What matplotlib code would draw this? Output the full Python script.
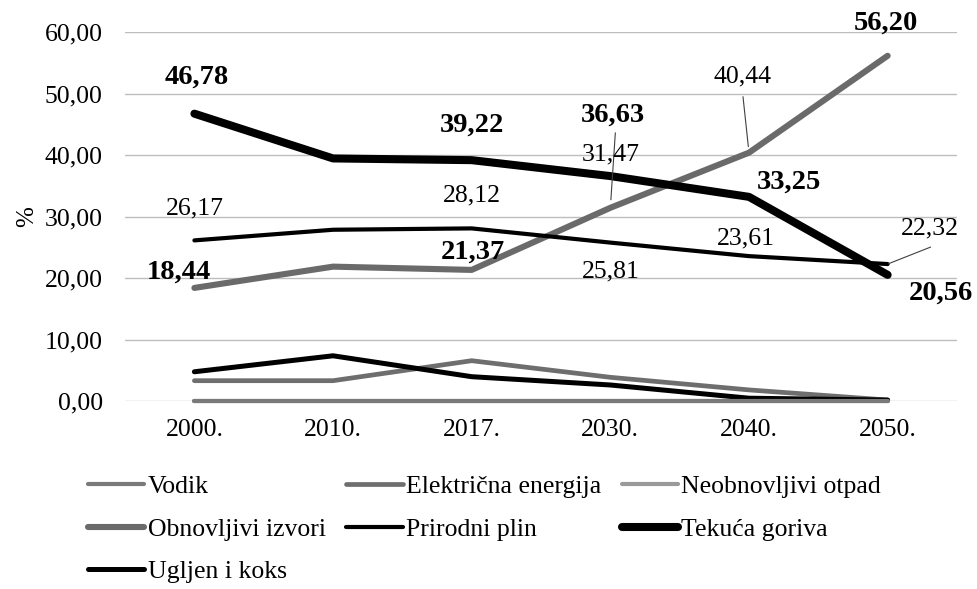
import matplotlib
matplotlib.use("Agg")
import matplotlib.pyplot as plt

plt.rcParams["font.family"] = ["Liberation Serif", "DejaVu Serif"]

years = ["2000.", "2010.", "2017.", "2030.", "2040.", "2050."]

vodik = [0, 0, 0, 0, 0, 0]
elektricna = [3.35, 3.35, 6.6, 3.9, 1.85, 0.2]
neobnovljivi = [0, 0, 0, 0, 0, 0]
obnovljivi = [18.44, 21.9, 21.37, 31.47, 40.44, 56.20]
plin = [26.17, 27.9, 28.12, 25.81, 23.61, 22.32]
tekuca = [46.78, 39.5, 39.22, 36.63, 33.25, 20.56]
ugljen = [4.8, 7.4, 4.0, 2.65, 0.5, 0.2]

names = ["Vodik", "Električna energija", "Neobnovljivi otpad",
         "Obnovljivi izvori", "Prirodni plin", "Tekuća goriva", "Ugljen i koks"]
series = [vodik, elektricna, neobnovljivi, obnovljivi, plin, tekuca, ugljen]
colors = ["#7a7a7a", "#6e6e6e", "#9a9a9a", "#6a6a6a", "#000000", "#000000", "#000000"]
widths = [3.0, 3.4, 3.0, 4.4, 3.0, 5.8, 3.6]
zorders = [4, 3, 3, 3, 3, 3, 3]

fig = plt.figure(figsize=(9.77, 5.89), dpi=100)
ax = fig.add_axes([0.128, 0.3187, 0.8515, 0.6263])

x = list(range(len(years)))
handles = []
for name, vals, c, w, z in zip(names, series, colors, widths, zorders):
    h, = ax.plot(x, vals, color=c, lw=w, solid_capstyle="round",
                 solid_joinstyle="round", label=name, zorder=z, clip_on=False)
    handles.append(h)

ax.set_xlim(-0.5, 5.5)
ax.set_ylim(0, 60)
ax.set_yticks(range(0, 61, 10))
ax.set_yticklabels([f"{v:.2f}".replace(".", ",") for v in range(0, 61, 10)])
ax.set_xticks(x)
ax.set_xticklabels(years)
ax.tick_params(length=0, labelsize=18.5)
ax.tick_params(axis="y", pad=16)
ax.tick_params(axis="x", pad=13)
ax.grid(axis="y", color="#bdbdbd", lw=1)
ax.set_axisbelow(True)
for s in ax.spines.values():
    s.set_visible(False)
ax.set_ylabel("%", fontsize=18)
ax.yaxis.set_label_coords(-0.105, 0.5)


def fmt(v):
    return f"{v:.2f}".replace(".", ",")


px = 0.72  # pixel -> point

# (series, index, dx px, dy px, bold)
labels = [
    (tekuca, 0, 2, 37, True), (tekuca, 2, 0, 35, True), (tekuca, 3, 3, 61, True),
    (tekuca, 4, 40, 15, True), (tekuca, 5, 53, -18, True),
    (obnovljivi, 0, -16, 16, True), (obnovljivi, 2, 1, 18, True),
    (obnovljivi, 3, 0, 53, False), (obnovljivi, 4, -6, 76, False),
    (obnovljivi, 5, -2, 33, True),
    (plin, 0, 0, 32, False), (plin, 2, 0, 33, False), (plin, 3, 0, -29, False),
    (plin, 4, -3, 18, False), (plin, 5, 42, 36, False),
]
for vals, i, dx, dy, bold in labels:
    ax.annotate(fmt(vals[i]), (i, vals[i]), xytext=(dx * px, dy * px),
                textcoords="offset points", ha="center", va="center",
                fontsize=20.5 if bold else 18.5,
                fontweight="bold" if bold else "normal", zorder=5)

# leader lines
leaders = [(obnovljivi, 3, 5, 75, 0, 8), (obnovljivi, 4, -6, 56, 0, 6),
           (plin, 5, 43, 17, 1, 1)]
for vals, i, x0, y0, x1, y1 in leaders:
    ax.annotate("", xy=(i, vals[i]), xytext=(x0 * px, y0 * px),
                textcoords="offset points",
                arrowprops=dict(arrowstyle="-", color="#404040", lw=0.8,
                                shrinkA=0, shrinkB=y1 * px + 0.01))

order = [0, 3, 6, 1, 4, 2, 5]
fig.legend([handles[k] for k in order], [names[k] for k in order],
           ncol=3, loc="upper left", bbox_to_anchor=(0.090, 0.193),
           frameon=False, fontsize=18.5, handlelength=2.2, handletextpad=0.12,
           columnspacing=0.8, labelspacing=0.76, borderaxespad=0, borderpad=0)

fig.savefig("out.png", dpi=100)
